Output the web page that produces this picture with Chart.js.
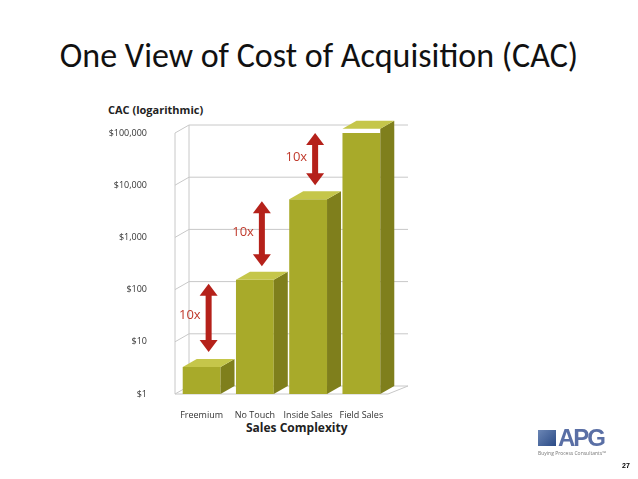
<!DOCTYPE html>
<html><head><meta charset="utf-8">
<script src="https://cdn.jsdelivr.net/npm/chart.js@4"></script>
<style>
body{margin:0;background:#fff;font-family:"Open Sans","Liberation Sans",sans-serif;}
#wrap{position:relative;width:638px;height:479px;overflow:hidden}
#t{position:absolute;left:0;width:638px;top:35px;text-align:center;font-size:34px;color:#111;font-family:Calibri,"Liberation Sans","Open Sans",sans-serif}
.lab{position:absolute;font-weight:bold;font-size:11px;color:#222}
</style></head><body>
<div id="wrap">
<div id="t">One View of Cost of Acquisition (CAC)</div>
<div class="lab" style="left:108px;top:102px">CAC (logarithmic)</div>
<div class="lab" style="left:246px;top:419px;font-size:12px">Sales Complexity</div>
<canvas id="c" width="638" height="479" style="position:absolute;left:0;top:0"></canvas>
<div style="position:absolute;left:538px;top:424px;width:60px;height:30px">
 <div style="position:absolute;left:0;top:6px;width:18px;height:16px;background:linear-gradient(135deg,#6b86b5,#2b4b86)"></div>
 <div style="position:absolute;left:20px;top:0;font:bold 24px 'Liberation Sans',sans-serif;color:#5a6fa5;letter-spacing:-2px">APG</div>
 <div style="position:absolute;left:0;top:26px;font-size:5px;color:#777;white-space:nowrap">Buying Process Consultants™</div>
</div>
<div style="position:absolute;left:622px;top:462px;font:bold 7px sans-serif">27</div>
</div>
<script>
const categories=["Freemium","No Touch","Inside Sales","Field Sales"];
const cacValues=[3.3,155,5400,120000];
const yTicks=[1,10,100,1000,10000,100000];
const arrowTop=[130,4900,100000];
const arrowBottom=[6.4,280,10000];
const arrowLabels=["10x","10x","10x"];
const DX=14,DY=-8;
const fmt=v=>"$"+v.toLocaleString("en-US");
const plug={id:"p3d",
 beforeDatasetsDraw(ch){const c=ch.ctx,a=ch.chartArea,y=ch.scales.y;
  c.save();c.strokeStyle="#c8c8c8";c.lineWidth=1;
  yTicks.forEach(v=>{const py=y.getPixelForValue(v);c.beginPath();c.moveTo(a.left,py);c.lineTo(a.left+DX,py+DY);c.lineTo(a.right+DX+6,py+DY);c.stroke();});
  c.beginPath();c.moveTo(a.left,a.bottom);c.lineTo(a.right,a.bottom);c.lineTo(a.right+DX+6,a.bottom+DY);c.stroke();
  c.beginPath();c.moveTo(a.left+DX,a.bottom+DY);c.lineTo(a.left+DX,y.getPixelForValue(100000)+DY);c.stroke();
  c.beginPath();c.moveTo(a.left,a.bottom);c.lineTo(a.left,y.getPixelForValue(100000));c.stroke();
  c.restore();},
 afterDatasetsDraw(ch){const c=ch.ctx,y=ch.scales.y,x=ch.scales.x;
  c.save();
  ch.getDatasetMeta(0).data.forEach(b=>{const w=b.width,l=b.x-w/2,r=b.x+w/2,t=b.y,bt=b.base;
   c.fillStyle="#7f7f1c";c.beginPath();c.moveTo(r,t);c.lineTo(r+DX,t+DY);c.lineTo(r+DX,bt+DY);c.lineTo(r,bt);c.fill();
   c.fillStyle="#c5c64a";c.beginPath();c.moveTo(l,t);c.lineTo(l+DX,t+DY);c.lineTo(r+DX,t+DY);c.lineTo(r,t);c.fill();});
  arrowTop.forEach((tv,i)=>{const px=x.getPixelForValue(i)+7;
   const t=y.getPixelForValue(tv),bm=y.getPixelForValue(arrowBottom[i]);
   c.fillStyle="#b5211a";c.fillRect(px-3,t+10,6,bm-t-20);
   c.beginPath();c.moveTo(px,t);c.lineTo(px-9,t+12);c.lineTo(px+9,t+12);c.fill();
   c.beginPath();c.moveTo(px,bm);c.lineTo(px-9,bm-12);c.lineTo(px+9,bm-12);c.fill();
   c.fillStyle="#c0392b";c.font="13px 'Open Sans',sans-serif";c.textAlign="right";c.textBaseline="middle";
   c.fillText(arrowLabels[i],px-8,(t+bm)/2-2);});
  c.restore();}};
new Chart(document.getElementById("c"),{type:"bar",
 data:{labels:categories,datasets:[{data:cacValues,backgroundColor:"#a8aa2a",borderWidth:0,barPercentage:0.71,categoryPercentage:1}]},
 options:{responsive:false,animation:false,
  layout:{padding:{left:100,right:250,top:133,bottom:55}},
  plugins:{legend:{display:false},tooltip:{enabled:false}},
  scales:{
   x:{grid:{display:false},border:{display:false},afterFit:s=>{s.height=30},
      ticks:{color:"#333",font:{size:9,family:"'Open Sans',sans-serif"},padding:8,maxRotation:0}},
   y:{type:"logarithmic",min:1,max:100000,grid:{display:false},border:{display:false},afterFit:s=>{s.width=75},
      afterBuildTicks:s=>{s.ticks=yTicks.map(v=>({value:v}))},
      ticks:{color:"#333",font:{size:9,family:"'Open Sans',sans-serif"},padding:20,callback:v=>fmt(v)}}}},
 plugins:[plug]});
</script></body></html>
